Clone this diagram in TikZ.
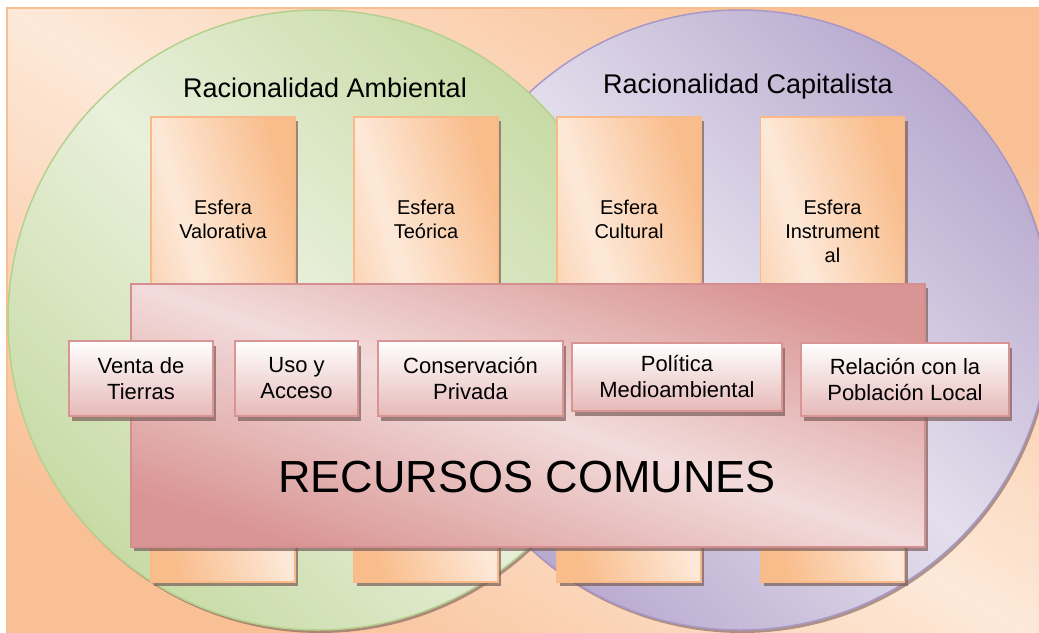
\documentclass[tikz,border=0pt]{standalone}
\usepackage{fontspec}
\setmainfont{Liberation Sans}
\usetikzlibrary{shadows}
\definecolor{bgL}{HTML}{FDE9D9}
\definecolor{bgD}{HTML}{F9C096}
\definecolor{bgB}{HTML}{F9BE8E}
\definecolor{grL}{HTML}{E9F0DC}
\definecolor{grD}{HTML}{C8DBA6}
\definecolor{grB}{HTML}{B5D08F}
\definecolor{puL}{HTML}{E4DFEC}
\definecolor{puD}{HTML}{B9AACF}
\definecolor{puB}{HTML}{A898C8}
\definecolor{esL}{HTML}{FDE9D9}
\definecolor{esD}{HTML}{F9BD8C}
\definecolor{esB}{HTML}{F9BA88}
\definecolor{pkL}{HTML}{F2DCDB}
\definecolor{pkD}{HTML}{D99594}
\definecolor{pkB}{HTML}{D48E8F}
\definecolor{smB}{HTML}{D99594}
\definecolor{smD}{HTML}{E6B9B8}
\definecolor{shc}{HTML}{7A5E5A}
\tikzset{
  myshadow/.style={drop shadow={shadow xshift=3pt, shadow yshift=-4pt, fill=shc, opacity=0.7}},
  bgbox/.style={rectangle, inner sep=0pt, minimum width=1060pt, minimum height=650pt,
    draw=bgB, line width=1.5pt, left color=bgD, right color=bgD, middle color=bgL, shading angle=-31.5},
  greencirc/.style={circle, inner sep=0pt, minimum size=620pt, draw=grB, line width=1.5pt,
    left color=grD, right color=grD, middle color=grL, shading angle=-45,
    drop shadow={shadow xshift=2pt, shadow yshift=-3pt, fill=shc, opacity=0.6}},
  purplecirc/.style={circle, inner sep=0pt, minimum size=620pt, draw=puB, line width=1.5pt,
    left color=puD, right color=puD, middle color=puL, shading angle=-45,
    drop shadow={shadow xshift=2pt, shadow yshift=-3pt, fill=shc, opacity=0.6}},
  esferabox/.style={rectangle, inner sep=0pt, minimum width=144pt, minimum height=465pt,
    draw=esB, line width=1.5pt, left color=esD, right color=esD, middle color=esL, shading angle=-72.8, myshadow},
  bigbox/.style={rectangle, inner sep=0pt, minimum width=794pt, minimum height=263pt,
    draw=pkB, line width=2pt, left color=pkD, right color=pkD, middle color=pkL, shading angle=-18.3, myshadow},
  smallbox/.style={rectangle, inner sep=0pt, draw=smB, line width=2.2pt, top color=white, bottom color=smD,
    align=center, font=\fontsize{22}{26}\selectfont, drop shadow={shadow xshift=3pt, shadow yshift=-5pt, fill=shc, opacity=0.7}},
  esferatext/.style={align=center, inner sep=0pt, font=\fontsize{20}{24}\selectfont},
  titletext/.style={anchor=base, inner sep=0pt, font=\fontsize{27}{32}\selectfont},
  bigtext/.style={inner sep=0pt, font=\fontsize{45}{54}\selectfont}
}
\begin{document}
\begin{tikzpicture}[x=1pt, y=-1pt]
\useasboundingbox (0,0) rectangle (1039,632);
\clip (0,0) rectangle (1039,632);
\fill[white] (0,0) rectangle (1039,632);
% background
\node[bgbox] (bg) at (537,333) {};
% circles
\node[purplecirc] (capc) at (740,320) {};
\node[greencirc] (ambc) at (318,320) {};
% titles
\node[titletext] (ambt) at (325,97) {Racionalidad Ambiental};
\node[titletext] (capt) at (748,93) {Racionalidad Capitalista};
% esfera boxes
\node[esferabox] (e1) at (223,349.5) {};
\node[esferabox] (e2) at (426,349.5) {};
\node[esferabox] (e3) at (629,349.5) {};
\node[esferabox] (e4) at (832.5,349.5) {};
\node[esferatext] (t1) at (223,219.7) {Esfera\\Valorativa};
\node[esferatext] (t2) at (426,219.7) {Esfera\\Teórica};
\node[esferatext] (t3) at (629,219.7) {Esfera\\Cultural};
\node[esferatext] (t4) at (832.5,231.7) {Esfera\\Instrument\\al};
% big box
\node[bigbox] (rc) at (528,415.5) {};
\node[bigtext] (rct) at (527,477) {RECURSOS COMUNES};
% small boxes
\node[smallbox, minimum width=144pt, minimum height=75pt] (s1) at (141,378.5) {Venta de\\Tierras};
\node[smallbox, minimum width=123pt, minimum height=75pt] (s2) at (296.5,378.5) {Uso y\\Acceso};
\node[smallbox, minimum width=185pt, minimum height=75pt] (s3) at (470.5,378.5) {Conservación\\Privada};
\node[smallbox, minimum width=210pt, minimum height=68pt] (s4) at (677,377) {Política\\Medioambiental};
\node[smallbox, minimum width=208pt, minimum height=73pt] (s5) at (905,379.5) {Relación con la\\Población Local};
\end{tikzpicture}
\end{document}
